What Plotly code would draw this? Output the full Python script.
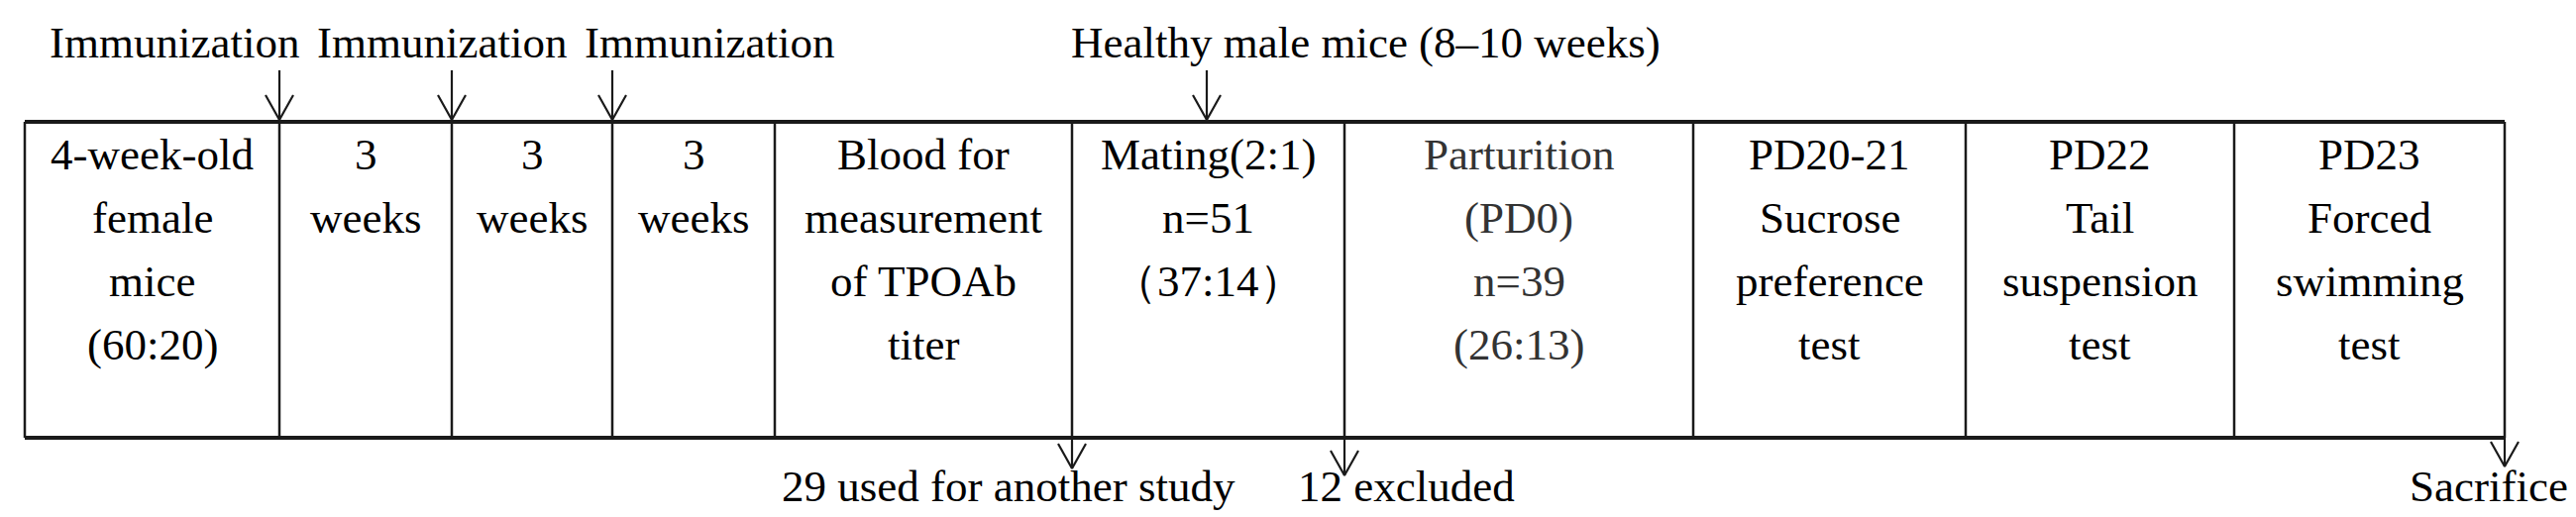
import plotly.graph_objects as go

# ---- data: timeline cells ----
cell_edges = [17, 274, 448, 610, 774, 1074, 1349, 1701, 1976, 2247, 2520]
cell_lines = [
    ["4-week-old", "female", "mice", "(60:20)"],
    ["3", "weeks"],
    ["3", "weeks"],
    ["3", "weeks"],
    ["Blood for", "measurement", "of TPOAb", "titer"],
    ["Mating(2:1)", "n=51", "（37:14）"],
    ["Parturition", "(PD0)", "n=39", "(26:13)"],
    ["PD20-21", "Sucrose", "preference", "test"],
    ["PD22", "Tail", "suspension", "test"],
    ["PD23", "Forced", "swimming", "test"],
]

# events entering from above / leaving below
top_labels = ["Immunization", "Immunization", "Immunization", "Healthy male mice (8\u201310 weeks)"]
top_label_x = [40, 310, 580, 1071]
top_arrow_x = [274, 448, 610, 1210]

bottom_labels = ["29 used for another study", "12 excluded", "Sacrifice"]
bottom_label_x = [779, 1300, 2422]
bottom_arrow_x = [1074, 1349, 2520]
bottom_arrow_tip = [465, 472, 463]

# ---- layout constants ----
W, H = 2600, 522
BOX_TOP, BOX_BOT = 115, 434
FS = 45
LINE_GAP = 64
FIRST_BASE = 163
TOP_BASE, BOT_BASE = 50, 498
INK = "#1a1a1a"
TXT = "#000000"
FONT = "Liberation Serif"


def mid(baseline):
    # annotation centre from text baseline
    return baseline - 0.34 * FS


fig = go.Figure()
shapes = []
annos = []

# box outline
for yy in (BOX_TOP, BOX_BOT):
    shapes.append(dict(type="line", x0=cell_edges[0], x1=cell_edges[-1], y0=yy, y1=yy,
                       xref="x", yref="y", line=dict(color=INK, width=4)))
for xx in cell_edges:
    shapes.append(dict(type="line", x0=xx, x1=xx, y0=BOX_TOP, y1=BOX_BOT,
                       xref="x", yref="y", line=dict(color=INK, width=2.5)))

# cell texts
for i, lines in enumerate(cell_lines):
    cx = (cell_edges[i] + cell_edges[i + 1]) / 2
    col = "#333333" if lines[0] == "Parturition" else TXT
    for j, t in enumerate(lines):
        annos.append(dict(x=cx, y=mid(FIRST_BASE + j * LINE_GAP), text=t, showarrow=False,
                          xanchor="center", yanchor="middle",
                          font=dict(family=FONT, size=FS, color=col)))

# labels above / below
for t, x in zip(top_labels, top_label_x):
    annos.append(dict(x=x, y=mid(TOP_BASE), text=t, showarrow=False, xanchor="left",
                      yanchor="middle", font=dict(family=FONT, size=FS, color=TXT)))
for t, x in zip(bottom_labels, bottom_label_x):
    annos.append(dict(x=x, y=mid(BOT_BASE), text=t, showarrow=False, xanchor="left",
                      yanchor="middle", font=dict(family=FONT, size=FS, color=TXT)))

# open V arrows
HEAD_W, HEAD_L = 14, 25
ax, ay = [], []
for x in top_arrow_x:
    tip = BOX_TOP - 2
    ax += [x, x, None, x - HEAD_W, x, x + HEAD_W, None]
    ay += [63, tip, None, tip - HEAD_L, tip, tip - HEAD_L, None]
for x, tip in zip(bottom_arrow_x, bottom_arrow_tip):
    ax += [x, x, None, x - HEAD_W, x, x + HEAD_W, None]
    ay += [BOX_BOT, tip, None, tip - HEAD_L, tip, tip - HEAD_L, None]
fig.add_trace(go.Scatter(x=ax, y=ay, mode="lines", line=dict(color=INK, width=2.2),
                         hoverinfo="skip", showlegend=False))

fig.update_layout(
    width=W, height=H,
    margin=dict(l=0, r=0, t=0, b=0),
    paper_bgcolor="white", plot_bgcolor="white",
    shapes=shapes, annotations=annos,
    showlegend=False,
)
fig.update_xaxes(range=[0, W], visible=False, fixedrange=True)
fig.update_yaxes(range=[H, 0], visible=False, fixedrange=True)

fig.write_html("out.html")
